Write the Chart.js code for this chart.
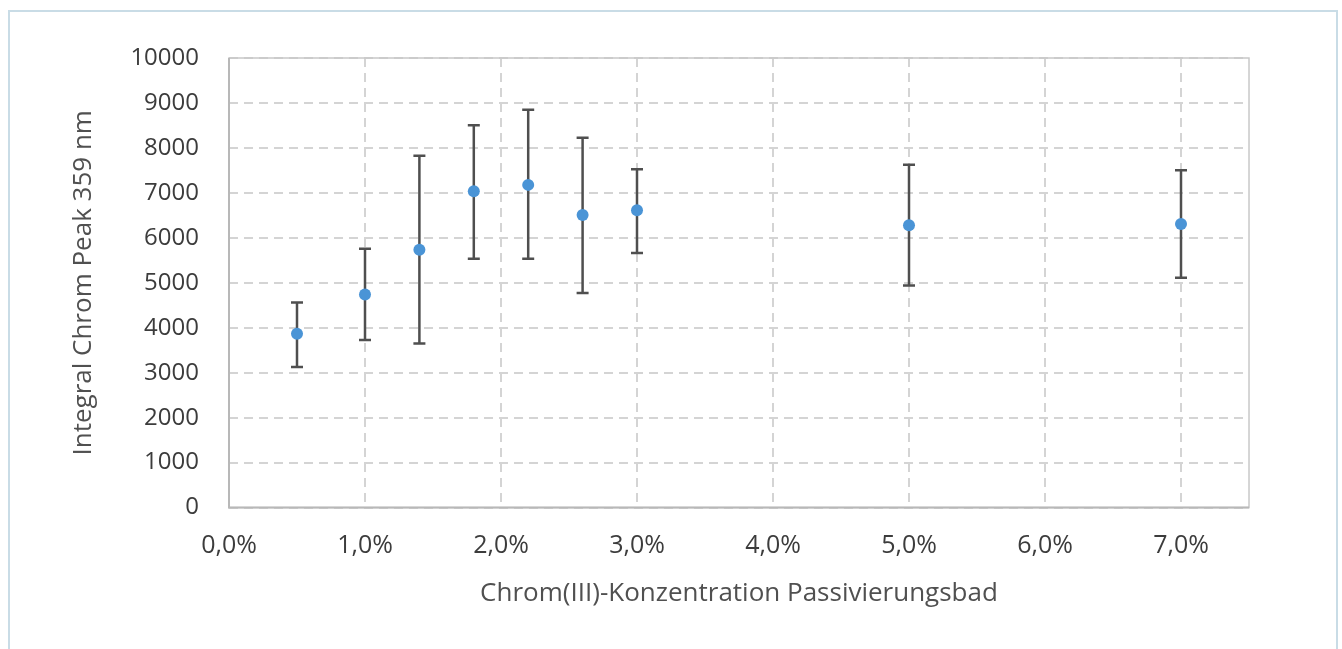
<!DOCTYPE html>
<html>
<head>
<meta charset="utf-8">
<script src="https://cdn.jsdelivr.net/npm/chart.js@4.4.1/dist/chart.umd.min.js"></script>
<style>
  html, body { margin: 0; padding: 0; background: #ffffff; }
  #wrap { position: relative; width: 1342px; height: 649px; overflow: hidden; }
  #frame { position: absolute; left: 8px; top: 10px; width: 1330px; height: 700px; border: 2px solid #c9dce6; box-sizing: border-box; }
  #c { position: absolute; left: 0; top: 0; }
</style>
</head>
<body>
<div id="wrap">
  <div id="frame"></div>
  <canvas id="c" width="1342" height="649"></canvas>
</div>
<script>
// Data
const concentrations = [0.5, 1.0, 1.4, 1.8, 2.2, 2.6, 3.0, 5.0, 7.0];        // % Chrom(III)
const peakIntegral   = [3866, 4742, 5737, 7036, 7178, 6510, 6612, 6278, 6310];
const errorUpper     = [4563, 5757, 7824, 8506, 8849, 8225, 7526, 7624, 7503];
const errorLower     = [3125, 3726, 3650, 5537, 5537, 4773, 5664, 4942, 5114];
const xTickValues    = [0, 1, 2, 3, 4, 5, 6, 7];
const yTitle = 'Integral Chrom Peak 359 nm';
const xTitle = 'Chrom(III)-Konzentration Passivierungsbad';

const FONT = '"Open Sans", sans-serif';

const errorBarPlugin = {
  id: 'errorBars',
  beforeDatasetsDraw(chart) {
    const {ctx, scales: {x, y}} = chart;
    ctx.save();
    ctx.strokeStyle = '#4f4f4f';
    ctx.lineWidth = 2.5;
    const cap = 6;
    concentrations.forEach((c, i) => {
      const px = x.getPixelForValue(c);
      const yt = y.getPixelForValue(errorUpper[i]);
      const yb = y.getPixelForValue(errorLower[i]);
      ctx.beginPath();
      ctx.moveTo(px, yt); ctx.lineTo(px, yb);
      ctx.moveTo(px - cap, yt); ctx.lineTo(px + cap, yt);
      ctx.moveTo(px - cap, yb); ctx.lineTo(px + cap, yb);
      ctx.stroke();
    });
    ctx.restore();
  }
};

const frameBoxPlugin = {
  id: 'frameBox',
  beforeDatasetsDraw(chart) {
    const {ctx, chartArea: a} = chart;
    ctx.save();
    ctx.strokeStyle = '#c8c8c8';
    ctx.lineWidth = 1.5;
    ctx.strokeRect(a.left, a.top, a.right - a.left, a.bottom - a.top);
    ctx.strokeStyle = '#b8b8b8';
    ctx.lineWidth = 2;
    ctx.beginPath();
    ctx.moveTo(a.left, a.top); ctx.lineTo(a.left, a.bottom); ctx.lineTo(a.right, a.bottom);
    ctx.stroke();
    ctx.restore();
  }
};

new Chart(document.getElementById('c'), {
  type: 'scatter',
  data: {
    datasets: [{
      data: concentrations.map((c, i) => ({x: c, y: peakIntegral[i]})),
      backgroundColor: '#4a94d6',
      borderColor: '#4a94d6',
      pointRadius: 6,
      pointHoverRadius: 6,
      borderWidth: 0
    }]
  },
  options: {
    responsive: false,
    animation: false,
    events: [],
    layout: { padding: { left: 67, right: 93, top: 58, bottom: 40 } },
    plugins: { legend: { display: false }, tooltip: { enabled: false } },
    scales: {
      x: {
        type: 'linear',
        min: 0, max: 7.5,
        afterBuildTicks(scale) { scale.ticks = xTickValues.map(v => ({value: v})); },
        afterFit(scale) { scale.height = 101.4; },
        ticks: {
          padding: 23,
          color: '#3c3c3c',
          font: { family: FONT, size: 25 },
          callback: (v) => v.toFixed(1).replace('.', ',') + '%'
        },
        grid: { color: '#d4d4d4', lineWidth: 2, drawTicks: false },
        border: { display: false, dash: [9, 6] },
        title: {
          display: true, text: xTitle, color: '#505050',
          font: { family: FONT, size: 26 }, padding: { top: 0, bottom: 0 }
        }
      },
      y: {
        min: 0, max: 10000,
        ticks: {
          stepSize: 1000, padding: 30,
          color: '#3c3c3c',
          font: { family: FONT, size: 24 },
          callback: (v) => String(v)
        },
        afterFit(scale) { scale.width = 162; },
        grid: { color: '#d4d4d4', lineWidth: 2, drawTicks: false },
        border: { display: false, dash: [9, 6] },
        title: {
          display: true, text: yTitle, color: '#505050',
          font: { family: FONT, size: 26 }, padding: { top: 1, bottom: 0 }
        }
      }
    }
  },
  plugins: [frameBoxPlugin, errorBarPlugin]
});
</script>
</body>
</html>
